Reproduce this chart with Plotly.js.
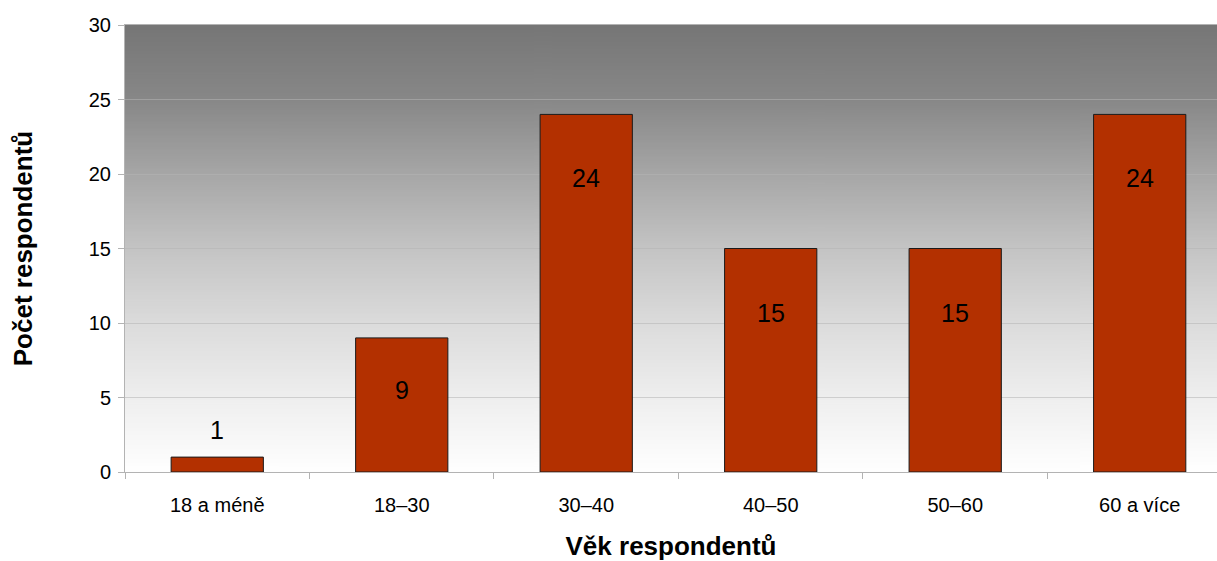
<!DOCTYPE html>
<html>
<head>
<meta charset="utf-8">
<script src="https://cdn.plot.ly/plotly-3.0.1.min.js"></script>
<style>
html,body{margin:0;padding:0;background:#fff;}
#chart{width:1217px;height:561px;}
</style>
</head>
<body>
<div id="chart"></div>
<script>
const categories = ["18 a méně", "18–30", "30–40", "40–50", "50–60", "60 a více"];
const values = [1, 9, 24, 15, 15, 24];
const yTickValues = [0, 5, 10, 15, 20, 25, 30];
const xTitle = "Věk respondentů";
const yTitle = "Počet respondentů";

// gradient background image for the plot area
function gradientImage() {
  const c = document.createElement('canvas');
  c.width = 4; c.height = 512;
  const g = c.getContext('2d');
  const grd = g.createLinearGradient(0, 0, 0, 512);
  grd.addColorStop(0.00, '#767676');
  grd.addColorStop(0.17, '#888888');
  grd.addColorStop(0.33, '#a6a6a6');
  grd.addColorStop(0.50, '#c4c4c4');
  grd.addColorStop(0.67, '#dcdcdc');
  grd.addColorStop(0.83, '#eeeeee');
  grd.addColorStop(1.00, '#ffffff');
  g.fillStyle = grd;
  g.fillRect(0, 0, 4, 512);
  return c.toDataURL('image/png');
}

const FONT = '"Liberation Sans", Arial, sans-serif';

const trace = {
  type: 'bar',
  x: categories,
  y: values,
  width: 0.5,
  marker: {color: '#b33000', line: {color: '#1a1a1a', width: 1}},
  hoverinfo: 'x+y'
};

function labelShift(v) {
  if (v < 3) return 27;
  if (v < 12) return -52;
  return -64;
}

const annotations = categories.map((c, i) => ({
  x: c, y: values[i], xref: 'x', yref: 'y',
  text: String(values[i]), showarrow: false,
  yshift: labelShift(values[i]),
  font: {family: FONT, size: 25, color: '#000'}
}));

const layout = {
  width: 1217, height: 561,
  margin: {l: 125, r: 0, t: 25, b: 89},
  paper_bgcolor: '#ffffff',
  plot_bgcolor: 'rgba(0,0,0,0)',
  font: {family: FONT, color: '#000'},
  showlegend: false,
  bargap: 0.5,
  images: [{
    source: gradientImage(), xref: 'paper', yref: 'paper',
    x: 0, y: 1, sizex: 1, sizey: 1, sizing: 'stretch',
    xanchor: 'left', yanchor: 'top', layer: 'below'
  }],
  xaxis: {
    type: 'category',
    range: [-0.5, 5.419],
    showgrid: false,
    showline: true, linecolor: '#b3b3b3', linewidth: 1, mirror: true,
    ticks: 'outside', tickson: 'boundaries', ticklen: 6, tickcolor: '#b3b3b3',
    tickfont: {family: FONT, size: 20, color: '#000'},
    ticklabelstandoff: 15,
    title: {text: xTitle, standoff: 21, font: {family: FONT, size: 26, color: '#000', weight: 'bold'}},
    zeroline: false, fixedrange: true
  },
  yaxis: {
    range: [0, 30],
    tickvals: yTickValues,
    showgrid: true, gridcolor: 'rgba(181,181,181,0.55)', gridwidth: 1,
    showline: true, linecolor: '#b3b3b3', linewidth: 1, mirror: true,
    ticks: 'outside', ticklen: 6, tickcolor: '#b3b3b3',
    tickfont: {family: FONT, size: 20, color: '#000'},
    ticklabelstandoff: 3,
    title: {text: yTitle, standoff: 48, font: {family: FONT, size: 26, color: '#000', weight: 'bold'}},
    zeroline: false, fixedrange: true
  },
  annotations: annotations
};

Plotly.newPlot('chart', [trace], layout, {displayModeBar: false, staticPlot: true});
</script>
</body>
</html>
